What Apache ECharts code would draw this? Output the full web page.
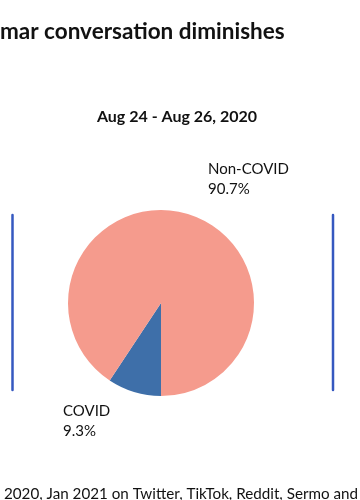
<!DOCTYPE html>
<html>
<head>
<meta charset="utf-8">
<script src="https://cdn.jsdelivr.net/npm/echarts@6/dist/echarts.min.js"></script>
<style>html,body{margin:0;padding:0;background:#fff}#c{width:360px;height:500px}</style>
</head>
<body>
<div id="c"></div>
<script>
const titleText = "mar conversation diminishes";
const subtitleText = "Aug 24 - Aug 26, 2020";
const footerText = "2020, Jan 2021 on Twitter, TikTok, Reddit, Sermo and";
const categories = ["COVID", "Non-COVID"];
const shares = [9.3, 90.7];
const colors = ["#3E6FA9", "#F59B8D"];

const chart = echarts.init(document.getElementById('c'), null, {renderer: 'canvas'});
const FONT = "Lato";
chart.setOption({
  animation: false,
  backgroundColor: '#fff',
  title: [
    {text: titleText, left: -5, top: 15, textStyle: {fontFamily: FONT, fontWeight: 'bold', fontSize: 22.5, color: '#111'}},
    {text: subtitleText, left: 172, top: 104, textAlign: 'center', textStyle: {fontFamily: FONT, fontWeight: 'bold', fontSize: 16, color: '#111'}},
    {text: footerText, left: -1, top: 482, textStyle: {fontFamily: FONT, fontWeight: 'normal', fontSize: 15.2, color: '#111'}}
  ],
  graphic: [
    {type: 'line', shape: {x1: 12.5, y1: 215, x2: 12.5, y2: 390}, style: {stroke: '#3558C0', lineWidth: 2.5, lineCap: 'round'}},
    {type: 'line', shape: {x1: 333, y1: 215, x2: 333, y2: 390}, style: {stroke: '#3558C0', lineWidth: 2.5, lineCap: 'round'}}
  ],
  series: [{
    type: 'pie',
    center: [161, 303],
    radius: 93,
    startAngle: 270,
    clockwise: true,
    silent: true,
    labelLine: {show: false},
    label: {
      show: true, position: 'outside', formatter: '{b}\n{c}%',
      fontFamily: FONT, fontSize: 15, lineHeight: 20, color: '#111', align: 'left'
    },
    labelLayout: function (p) {
      if (p.dataIndex === 0) return {x: 63, y: 401, align: 'left', verticalAlign: 'top'};
      return {x: 208, y: 159, align: 'left', verticalAlign: 'top'};
    },
    data: categories.map((n, i) => ({name: n, value: shares[i], itemStyle: {color: colors[i]}}))
  }]
});
</script>
</body>
</html>
